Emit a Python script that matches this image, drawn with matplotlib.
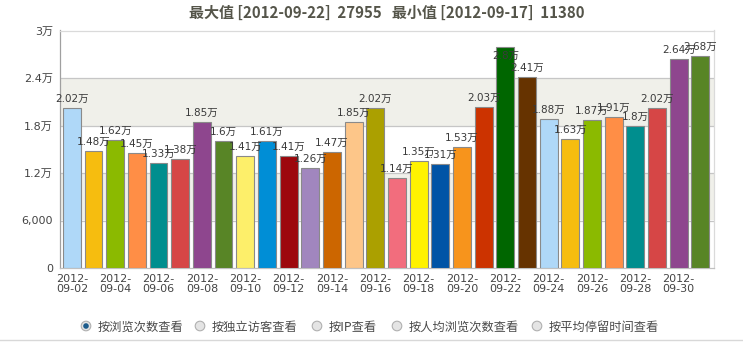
import matplotlib
matplotlib.use("Agg")
import matplotlib.pyplot as plt
from matplotlib.patches import Circle
import numpy as np

# ---------------------------------------------------------------------------
# Data
# ---------------------------------------------------------------------------

DATES = [
    "2012-09-02", "2012-09-03", "2012-09-04", "2012-09-05", "2012-09-06",
    "2012-09-07", "2012-09-08", "2012-09-09", "2012-09-10", "2012-09-11",
    "2012-09-12", "2012-09-13", "2012-09-14", "2012-09-15", "2012-09-16",
    "2012-09-17", "2012-09-18", "2012-09-19", "2012-09-20", "2012-09-21",
    "2012-09-22", "2012-09-23", "2012-09-24", "2012-09-25", "2012-09-26",
    "2012-09-27", "2012-09-28", "2012-09-29", "2012-09-30", "2012-10-01",
]
PAGE_VIEWS = [
    20200, 14800, 16200, 14500, 13300, 13800, 18500, 16000, 14100, 16100,
    14100, 12600, 14700, 18500, 20200, 11380, 13500, 13100, 15300, 20300,
    27955, 24100, 18800, 16300, 18700, 19100, 18000, 20200, 26400, 26800,
]
Y_TICKS = [0, 6000, 12000, 18000, 24000, 30000]
Y_TICK_LABELS = ["0", "6,000", "1.2万", "1.8万", "2.4万", "3万"]
TITLE = "最大值 [2012-09-22]  27955   最小值 [2012-09-17]  11380"
OPTIONS = ["按浏览次数查看", "按独立访客查看", "按IP查看", "按人均浏览次数查看", "按平均停留时间查看"]

PALETTE = [
    "#afd8f8", "#f6bd0f", "#8bba00", "#ff8e46", "#008e8e", "#d64646",
    "#8e468e", "#588526", "#fdef6a", "#008ed6", "#9d080d", "#a186be",
    "#cc6600", "#fdc689", "#aba000", "#f26d7d", "#fff200", "#0054a6",
    "#f7941c", "#cc3300", "#006600", "#663300",
]

FONTS = ["DejaVu Sans", "Noto Sans CJK SC"]
CJK = ["Noto Sans CJK SC", "DejaVu Sans"]

W, H = 743, 342


def wan(v: float) -> str:
    return f"{v / 10000:.2f}".rstrip("0").rstrip(".") + "万"


fig = plt.figure(figsize=(W / 100, H / 100), dpi=100)
fig.patch.set_facecolor("white")

# plot area in pixels
left, right, top, bottom = 60, 714, 30.5, 268
ax = fig.add_axes([left / W, 1 - bottom / H, (right - left) / W, (bottom - top) / H])

n = len(PAGE_VIEWS)
x = np.arange(n)
colors = [PALETTE[i % len(PALETTE)] for i in range(n)]

ax.axhspan(6000, 12000, color="#f0f0ea", zorder=0, lw=0)
ax.axhspan(18000, 24000, color="#f0f0ea", zorder=0, lw=0)
for t in Y_TICKS[1:]:
    ax.axhline(t, color="#c6c6c6" if t < 30000 else "#dadada", lw=0.9, zorder=1)

ax.bar(x, PAGE_VIEWS, width=0.82, color=colors, edgecolor="#8a8a8a",
       linewidth=0.8, zorder=3)

px = 30000 / (bottom - top)  # data units per pixel
for xi, v in zip(x, PAGE_VIEWS):
    y = v + 9 * px
    if y > 28500:
        y = v - 9 * px
    ax.text(xi, y, wan(v), ha="center", va="center", fontsize=7.5,
            color="#3a3a3a", family=FONTS, zorder=5)

ax.set_xlim(-0.55, 29.63)
ax.set_ylim(0, 30000)
ax.set_yticks(Y_TICKS)
ax.set_yticklabels(Y_TICK_LABELS, family=FONTS, fontsize=8, color="#444444")
ax.set_xticks(x[::2])
ax.set_xticklabels([d[:5] + "\n" + d[5:] for d in DATES[::2]], family=FONTS,
                   fontsize=8, color="#444444", linespacing=1.0)
ax.tick_params(axis="both", length=0)
ax.tick_params(axis="y", pad=5)
ax.tick_params(axis="x", pad=4)
for side in ("top", "right"):
    ax.spines[side].set_color("#dadada")
    ax.spines[side].set_linewidth(0.9)
ax.spines["left"].set_color("#a0a0a0")
ax.spines["bottom"].set_color("#c0c0c0")
for s in ("left", "bottom"):
    ax.spines[s].set_linewidth(0.9)
ax.set_facecolor("white")

fig.text((left + right) / 2 / W, 1 - 13 / H, TITLE, ha="center", va="center",
         fontsize=10.8, fontweight="bold", color="#55554a", family=CJK)

# radio buttons row
ov = fig.add_axes([0, 0, 1, 1], zorder=10)
ov.set_xlim(0, W)
ov.set_ylim(H, 0)
ov.axis("off")
ov.patch.set_alpha(0)
radio_x = [86, 200, 317, 397, 537]
for i, (rx, label) in enumerate(zip(radio_x, OPTIONS)):
    ov.add_patch(Circle((rx, 326), 4.8, facecolor="#e4e4e4", edgecolor="#b0b0b0",
                        lw=0.8))
    if i == 0:
        ov.add_patch(Circle((rx, 326), 2.8, facecolor="#1d5c8c", edgecolor="none"))
    ov.text(rx + 12, 327, label, ha="left", va="center", fontsize=8.8,
            color="#4a4a4a", family=CJK)
ov.plot([0, W], [339.5, 339.5], color="#d8d8d8", lw=1)

fig.savefig("out.png", dpi=100, facecolor="white")
